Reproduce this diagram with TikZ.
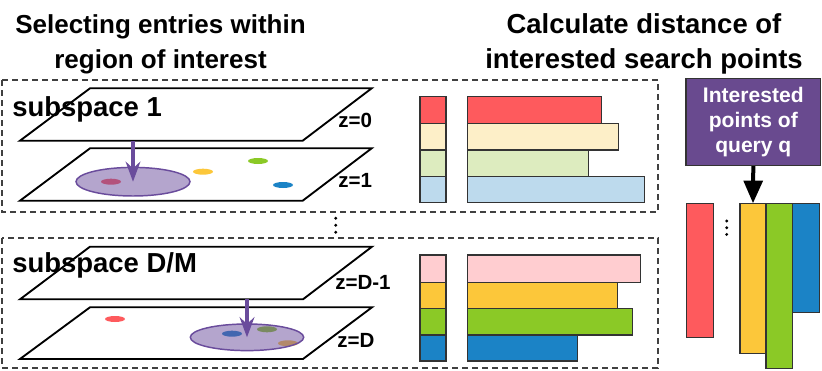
\documentclass[tikz,border=0pt]{standalone}
\usepackage{fontspec}
\setmainfont{Liberation Sans}
\usetikzlibrary{arrows.meta}
\definecolor{cRed}{HTML}{FE5A5D}
\definecolor{cCream}{HTML}{FDEFC8}
\definecolor{cLGreen}{HTML}{DDECBF}
\definecolor{cLBlue}{HTML}{BDDAED}
\definecolor{cPink}{HTML}{FFCDD0}
\definecolor{cYellow}{HTML}{FCC73A}
\definecolor{cGreen}{HTML}{8BC926}
\definecolor{cBlue}{HTML}{1B83C6}
\definecolor{cPurple}{HTML}{6A4C9C}
\definecolor{cBox}{HTML}{694A8F}
\begin{document}
\begin{tikzpicture}[x=0.75pt,y=-0.75pt,
  titleL/.style={font=\bfseries\fontsize{19.5}{23}\selectfont, inner sep=0pt},
  titleR/.style={font=\bfseries\fontsize{20.6}{24}\selectfont, inner sep=0pt},
  sublabel/.style={font=\bfseries\fontsize{20.6}{24}\selectfont, inner sep=0pt, anchor=base west},
  zlabel/.style={font=\bfseries\fontsize{15.4}{18}\selectfont, inner sep=0pt, anchor=base west},
  dashbox/.style={draw=black!75, line width=0.8pt, dash pattern=on 4.5pt off 3pt},
  plane/.style={draw=black, fill=white, line width=1.4pt, line join=miter},
  region/.style={draw=cPurple, line width=1.1pt, fill=cPurple, fill opacity=0.5},
  dot/.style={},
  parrow/.style={draw=cPurple, line width=3pt, -{Stealth[length=15pt,width=11pt,inset=5pt]}},
  barbox/.style={draw=black!80, line width=0.9pt},
  qbox/.style={draw=black!80, line width=0.9pt, fill=cBox, text=white, align=center,
    font=\bfseries\fontsize{15.8}{18.8}\selectfont, minimum width=101pt, minimum height=65.5pt, inner sep=0pt},
  barrow/.style={draw=black, line width=3pt, -{Triangle[length=17pt,width=14pt]}},
  vdot/.style={fill=black, draw=none}
]
\useasboundingbox (0,0) rectangle (822,371);

% titles
\node[titleL, anchor=base] (t1) at (160.5,33) {Selecting entries within};
\node[titleL, anchor=base] (t2) at (160.5,68) {region of interest};
\node[titleR, anchor=base] (t3) at (644,33) {Calculate distance of};
\node[titleR, anchor=base] (t4) at (644,68) {interested search points};

% dashed boxes
\draw[dashbox] (2,80) rectangle (658,212);
\draw[dashbox] (2,238) rectangle (658,368);

% vertical dots between boxes
\fill[vdot] (335.7,218.3) circle (1.6);
\fill[vdot] (335.7,225.2) circle (1.6);
\fill[vdot] (335.7,232.2) circle (1.6);

% ---- subspace 1 ----
\draw[plane] (20,140.7) -- (302.7,140.7) -- (371.7,88.3) -- (90,88.3) -- cycle;
\draw[plane] (20,200.7) -- (302.7,200.7) -- (371.7,148.3) -- (90,148.3) -- cycle;
\fill[cRed] (111,181.7) ellipse (10 and 3);
\fill[cYellow] (203,171.7) ellipse (10 and 3);
\fill[cGreen] (258,161) ellipse (10 and 3);
\fill[cBlue] (283,185) ellipse (10 and 3);
\draw[region] (133,181.7) ellipse (57 and 14.3);
\coordinate (a1s) at (133,140.7);
\coordinate (a1e) at (133,181.7);
\draw[parrow] (a1s) -- (a1e);
\node[sublabel] (s1) at (12,116) {subspace 1};
\node[zlabel] (z0) at (338,127.5) {z=0};
\node[zlabel] (z1) at (338,187.5) {z=1};

% ---- subspace D/M ----
\draw[plane] (20,299.3) -- (303,299.3) -- (372,246.7) -- (90,246.7) -- cycle;
\draw[plane] (20,359) -- (303,359) -- (372,307.3) -- (90,307.3) -- cycle;
\fill[cRed] (115,319) ellipse (10 and 3);
\fill[cBlue] (232,333.7) ellipse (10 and 3);
\fill[cGreen] (267,329.3) ellipse (10 and 3);
\fill[cYellow] (288,343.3) ellipse (10 and 3);
\draw[region] (247,337.3) ellipse (56.7 and 13.3);
\coordinate (a2s) at (247,299.3);
\coordinate (a2e) at (247,337.3);
\draw[parrow] (a2s) -- (a2e);
\node[sublabel] (s2) at (12,272.5) {subspace D/M};
\node[zlabel] (zd1) at (335,289) {z=D-1};
\node[zlabel] (zd) at (337,347.5) {z=D};

% ---- bars, subspace 1 ----
\draw[barbox, fill=cRed]    (420,96.7)  rectangle (446,123.3);
\draw[barbox, fill=cCream]  (420,123.3) rectangle (446,150);
\draw[barbox, fill=cLGreen] (420,150)   rectangle (446,176.7);
\draw[barbox, fill=cLBlue]  (420,176.7) rectangle (446,202.7);
\draw[barbox, fill=cRed]    (467.7,96.7)  rectangle (601.7,123.3);
\draw[barbox, fill=cCream]  (467.7,123.3) rectangle (618.3,150);
\draw[barbox, fill=cLGreen] (467.7,150)   rectangle (588.3,176.7);
\draw[barbox, fill=cLBlue]  (467.7,176.7) rectangle (644.3,202.7);

% ---- bars, subspace D/M ----
\draw[barbox, fill=cPink]   (420,255)   rectangle (446,282.3);
\draw[barbox, fill=cYellow] (420,282.3) rectangle (446,308.7);
\draw[barbox, fill=cGreen]  (420,308.7) rectangle (446,335);
\draw[barbox, fill=cBlue]   (420,335)   rectangle (446,361);
\draw[barbox, fill=cPink]   (467.7,255)   rectangle (640.7,282.3);
\draw[barbox, fill=cYellow] (467.7,282.3) rectangle (617.7,308.7);
\draw[barbox, fill=cGreen]  (467.7,308.7) rectangle (632.7,335);
\draw[barbox, fill=cBlue]   (467.7,335)   rectangle (577.7,361);

% ---- query box and result bars ----
\node[qbox] (q) at (753.3,121.8) {Interested\\points of\\query q};
\draw[barbox, fill=cRed]    (686.7,203.3) rectangle (713.3,337.3);
\fill[vdot] (726.7,221) circle (1.6);
\fill[vdot] (726.7,227.7) circle (1.6);
\fill[vdot] (726.7,234.4) circle (1.6);
\draw[barbox, fill=cYellow] (740,203.3) rectangle (766,353.3);
\draw[barbox, fill=cGreen]  (766,203.3) rectangle (792.7,368.3);
\draw[barbox, fill=cBlue]   (792.7,203.3) rectangle (819.3,312.7);
\coordinate (ytop) at (753,203.3);
\draw[barrow] (q.south) -- (ytop);
\end{tikzpicture}
\end{document}
